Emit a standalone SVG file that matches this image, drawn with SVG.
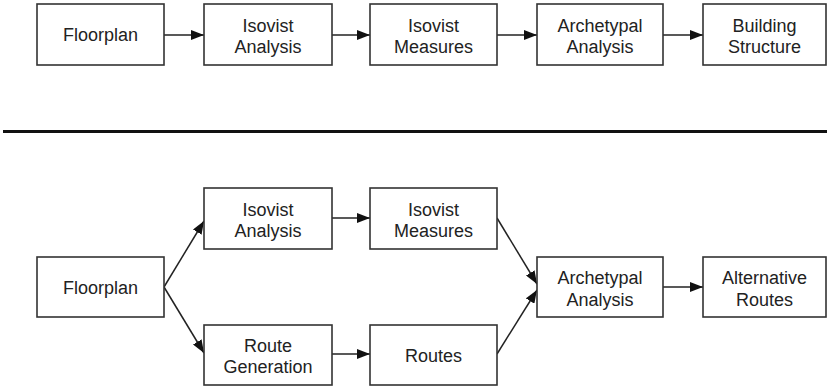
<svg xmlns="http://www.w3.org/2000/svg" width="827" height="388" viewBox="0 0 827 388">
<style>
.box{fill:#fff;stroke:#333;stroke-width:1.6}
.t{font-family:"Liberation Sans",Arial,sans-serif;font-size:18px;fill:#222;text-anchor:middle}
.c{stroke:#222;stroke-width:1.5;fill:none;marker-end:url(#ah)}
</style>
<defs>
<marker id="ah" markerUnits="userSpaceOnUse" markerWidth="14" markerHeight="10" refX="13" refY="5" orient="auto">
<path d="M0,0 L13,5 L0,10 Z" fill="#111"/>
</marker>
</defs>
<rect width="827" height="388" fill="#fff"/>
<g id="connectors">
<line class="c" x1="164" y1="35" x2="204" y2="35"/>
<line class="c" x1="332" y1="35" x2="370" y2="35"/>
<line class="c" x1="497" y1="35" x2="537" y2="35"/>
<line class="c" x1="663" y1="35" x2="703" y2="35"/>
<line class="c" x1="164" y1="287" x2="204" y2="221"/>
<line class="c" x1="164" y1="287" x2="204" y2="353"/>
<line class="c" x1="332" y1="218" x2="370" y2="218"/>
<line class="c" x1="332" y1="354" x2="370" y2="354"/>
<line class="c" x1="497" y1="218" x2="537" y2="284"/>
<line class="c" x1="497" y1="354" x2="537" y2="290"/>
<line class="c" x1="663" y1="287" x2="703" y2="287"/>
</g>
<line id="separator" x1="3" y1="131.5" x2="827" y2="131.5" stroke="#111" stroke-width="3"/>
<g id="t-floorplan"><rect class="box" x="37" y="4" width="127" height="61"/><text class="t" x="100.5" y="41">Floorplan</text></g>
<g id="t-isovist-analysis"><rect class="box" x="204" y="4" width="128" height="61"/><text class="t" x="268" y="31.5">Isovist</text><text class="t" x="268" y="53">Analysis</text></g>
<g id="t-isovist-measures"><rect class="box" x="370" y="4" width="127" height="61"/><text class="t" x="433.5" y="31.5">Isovist</text><text class="t" x="433.5" y="53">Measures</text></g>
<g id="t-archetypal"><rect class="box" x="537" y="4" width="126" height="61"/><text class="t" x="600" y="31.5">Archetypal</text><text class="t" x="600" y="53">Analysis</text></g>
<g id="t-building"><rect class="box" x="703" y="4" width="123" height="61"/><text class="t" x="764.5" y="31.5">Building</text><text class="t" x="764.5" y="53">Structure</text></g>
<g id="b-floorplan"><rect class="box" x="37" y="257" width="127" height="60"/><text class="t" x="100.5" y="293.5">Floorplan</text></g>
<g id="b-isovist-analysis"><rect class="box" x="204" y="188" width="128" height="61"/><text class="t" x="268" y="215.5">Isovist</text><text class="t" x="268" y="237">Analysis</text></g>
<g id="b-isovist-measures"><rect class="box" x="370" y="188" width="127" height="61"/><text class="t" x="433.5" y="215.5">Isovist</text><text class="t" x="433.5" y="237">Measures</text></g>
<g id="b-route-generation"><rect class="box" x="204" y="325" width="128" height="60"/><text class="t" x="268" y="351.5">Route</text><text class="t" x="268" y="373">Generation</text></g>
<g id="b-routes"><rect class="box" x="370" y="325" width="127" height="60"/><text class="t" x="433.5" y="361.5">Routes</text></g>
<g id="b-archetypal"><rect class="box" x="537" y="257" width="126" height="60"/><text class="t" x="600" y="284">Archetypal</text><text class="t" x="600" y="305.5">Analysis</text></g>
<g id="b-alternative"><rect class="box" x="703" y="257" width="123" height="60"/><text class="t" x="764.5" y="284">Alternative</text><text class="t" x="764.5" y="305.5">Routes</text></g>
</svg>
